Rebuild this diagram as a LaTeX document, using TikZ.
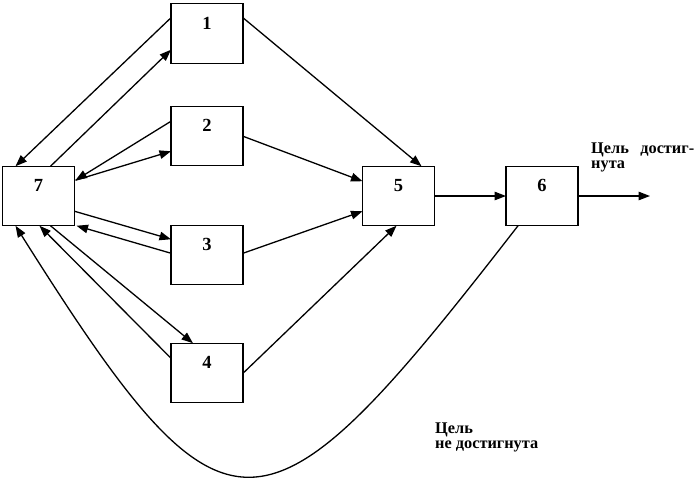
\documentclass[tikz,border=0pt]{standalone}
\usepackage{fontspec}
\setmainfont{Liberation Serif}
\usetikzlibrary{arrows.meta,calc}
\begin{document}
\begin{tikzpicture}[x=1pt,y=-1pt,
  box/.style={draw,line width=1.4pt,minimum width=72pt,minimum height=59.5pt,inner sep=0pt,outer sep=0pt},
  num/.style={font=\fontsize{18.5}{18.5}\selectfont\bfseries,inner sep=0pt},
  lbl/.style={font=\fontsize{16.3}{17}\selectfont\bfseries,inner sep=0pt,anchor=base west},
  con/.style={line width=1.3pt,-{Triangle[length=11.5pt,width=8.5pt]}}]
\useasboundingbox (0,0) rectangle (700,479);
\node[box] (b1) at (207,33.5) {};
\node[box] (b2) at (207,136) {};
\node[box] (b3) at (207,255) {};
\node[box] (b4) at (207,373) {};
\node[box] (b7) at (38.5,196) {};
\node[box] (b5) at (398.5,196) {};
\node[box] (b6) at (542,196) {};
\foreach \b/\t in {b1/1,b2/2,b3/3,b4/4,b5/5,b6/6,b7/7}
  \node[num] (n\t) at ([yshift=-19.5pt]\b.north) {\t};
% 7 <-> 1
\draw[con] ($(b1.north west)+(0,14)$) -- ($(b7.north west)+(13,0)$);
\draw[con] ($(b7.north west)+(48,0)$) -- ($(b1.north west)+(0,46)$);
% 7 <-> 2
\draw[con] ($(b2.north west)+(0,15)$) -- ($(b7.north east)+(1,14)$);
\draw[con] ($(b7.north east)+(1,14)$) -- ($(b2.north west)+(0,45)$);
% 7 <-> 3
\draw[con] ($(b7.north east)+(0,45)$) -- ($(b3.north west)+(0,14)$);
\draw[con] ($(b3.north west)+(0,28)$) -- ($(b7.south east)+(2,0)$);
% 7 <-> 4
\draw[con] ($(b7.south west)+(48,0)$) -- ($(b4.north west)+(22,0)$);
\draw[con] ($(b4.north west)+(0,15)$) -- ($(b7.south west)+(37,0)$);
% to 5
\draw[con] ($(b1.north east)+(0,14)$) -- ($(b5.north west)+(59,0)$);
\draw[con] ($(b2.north east)+(0,30)$) -- ($(b5.north west)+(0,15)$);
\draw[con] ($(b3.north east)+(0,28)$) -- ($(b5.north west)+(0,45)$);
\draw[con] ($(b4.north east)+(0,30)$) -- ($(b5.south west)+(34,0)$);
% 5 -> 6 -> out
\draw[con] (b5.east) -- (b6.west);
\coordinate (out) at (650,196);
\draw[con] (b6.east) -- (out);
% feedback curve 6 -> 7
\draw[con] ($(b6.south west)+(12,0)$) .. controls (262,556) and (228,563) .. ($(b7.south west)+(13,0)$);
% labels
\node[lbl] (g1) at (591,153) {\makebox[103pt][s]{Цель\hfill достиг-}};
\node[lbl] (g2) at (591,168.5) {нута};
\node[lbl] (h1) at (435,433) {Цель};
\node[lbl] (h2) at (435,448.5) {не достигнута};
\end{tikzpicture}
\end{document}
